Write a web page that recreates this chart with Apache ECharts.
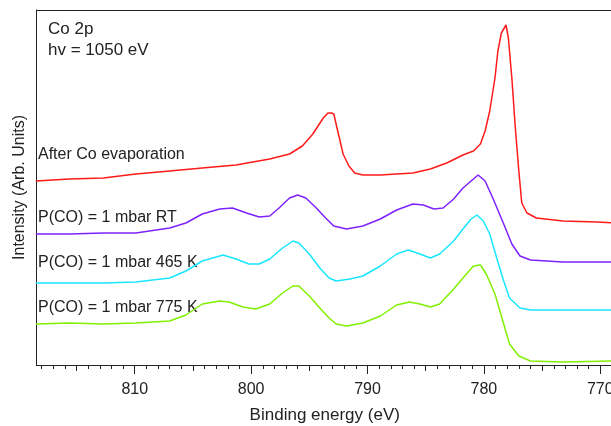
<!DOCTYPE html>
<html>
<head>
<meta charset="utf-8">
<script src="https://cdn.jsdelivr.net/npm/echarts@6/dist/echarts.min.js"></script>
<style>
  html, body { margin: 0; padding: 0; background: #fff; }
  #chart { width: 611px; height: 426px; }
</style>
</head>
<body>
<div id="chart"></div>
<script>
// Co 2p spectra, binding energy (eV) vs intensity (arb. units, offset stacked)
var redEnergy = [818.5, 815.6, 812.7, 809.9, 807.0, 804.2, 801.3, 798.4, 796.7, 795.6, 794.7, 793.8, 793.4, 793.1, 792.9, 792.5, 792.1, 791.6, 791.1, 790.4, 788.9, 787.5, 786.1, 784.6, 783.2, 781.8, 780.9, 780.3, 779.9, 779.5, 779.05, 778.8, 778.5, 778.1, 777.9, 777.6, 777.3, 777.0, 776.75, 776.3, 775.5, 773.2, 770.3, 768.9]
var redCounts = [184, 186, 187, 191, 194, 197, 200, 206, 211, 219, 231, 247, 252, 252, 251, 231, 211, 199, 192, 190, 190, 191, 192, 196, 202, 210, 214, 221, 234, 254, 287, 314, 332, 340, 327, 287, 237, 194, 162, 152, 147, 144, 143, 142]

var rtEnergy = [818.5, 815.6, 812.7, 809.9, 807.0, 805.6, 804.2, 802.7, 801.6, 800.4, 799.3, 798.4, 797.6, 796.7, 796.0, 795.3, 794.4, 793.6, 792.9, 791.8, 790.4, 788.9, 787.5, 786.1, 785.2, 784.3, 783.5, 782.6, 781.8, 780.9, 780.5, 779.9, 779.2, 778.3, 777.6, 776.9, 776.0, 773.2, 768.9]
var rtCounts = [131, 131, 132, 132, 137, 142, 151, 156, 157, 152, 148, 149, 157, 167, 170, 167, 157, 147, 139, 136, 139, 146, 155, 161, 160, 156, 157, 166, 177, 186, 190, 184, 166, 141, 121, 109, 105, 103, 103]

var k465Energy = [818.5, 815.6, 812.7, 809.9, 807.0, 805.6, 804.2, 802.4, 801.3, 800.2, 799.3, 798.4, 797.3, 796.4, 795.9, 795.0, 794.1, 793.3, 792.7, 791.5, 790.4, 788.9, 787.5, 786.5, 785.5, 784.6, 783.8, 782.6, 781.8, 781.1, 780.6, 780.05, 779.5, 778.9, 778.3, 777.8, 776.9, 776.0, 773.2, 768.9]
var k465Counts = [82, 82, 82, 83, 87, 94, 104, 110, 106, 101, 101, 106, 117, 124, 122, 111, 97, 87, 84, 86, 89, 99, 111, 115, 111, 107, 111, 124, 136, 146, 150, 144, 131, 107, 84, 67, 57, 55, 55, 55]

var k775Energy = [818.5, 815.6, 812.7, 809.9, 807.0, 805.6, 804.2, 802.7, 801.9, 800.7, 799.6, 798.4, 797.3, 796.4, 795.9, 795.0, 794.1, 793.3, 792.7, 791.8, 790.4, 788.9, 787.5, 786.4, 785.5, 784.6, 783.8, 782.6, 781.8, 780.9, 780.3, 779.8, 779.05, 778.3, 777.8, 777.0, 776.0, 773.2, 768.9]
var k775Counts = [41, 42, 41, 42, 44, 50, 61, 64, 63, 58, 56, 61, 72, 79, 79, 69, 57, 47, 41, 39, 42, 49, 60, 63, 61, 58, 61, 76, 87, 99, 100, 91, 71, 41, 21, 9, 4, 3, 4]

var seriesNames = ['After Co evaporation', 'P(CO) = 1 mbar RT', 'P(CO) = 1 mbar 465 K', 'P(CO) = 1 mbar 775 K']
var seriesColors = ['#ff1a1a', '#7f22ff', '#18e6ff', '#80f000']
var labelY = [155, 218, 263, 308]

var majorTicks = [810, 800, 790, 780, 770]
var midTicks = [815, 805, 795, 785, 775]
var minorTicks = []
for (var e = 769; e <= 818; e++) minorTicks.push(e)

var xMin = 768.91, xMax = 818.44

function pairs(xs, ys) {
  var out = []
  xs.forEach(function (x, i) { out.push([x, ys[i]]) })
  return out
}

var chart = echarts.init(document.getElementById('chart'))
var frame = '#222'
var font = 'Liberation Sans, Arial, sans-serif'

function tickAxis(values, len, showLine, showLabel) {
  return {
    type: 'value', position: 'bottom', min: xMin, max: xMax, inverse: true,
    axisLine: { show: showLine, onZero: false, lineStyle: { color: frame, width: 1 } },
    axisTick: { show: true, length: len, customValues: values, lineStyle: { color: frame, width: 1 } },
    axisLabel: { show: showLabel, customValues: majorTicks, margin: 17, fontSize: 16, color: '#222', fontFamily: font },
    splitLine: { show: false }
  }
}

var xAxes = [
  tickAxis(majorTicks, 9, true, true),
  tickAxis(midTicks, 6, false, false),
  tickAxis(minorTicks, 4, false, false),
  {
    type: 'value', position: 'top', min: xMin, max: xMax, inverse: true,
    axisLine: { show: true, onZero: false, lineStyle: { color: frame, width: 1 } },
    axisTick: { show: false }, axisLabel: { show: false }, splitLine: { show: false }
  }
]
xAxes[0].name = 'Binding energy (eV)'
xAxes[0].nameLocation = 'middle'
xAxes[0].nameGap = 42
xAxes[0].nameTextStyle = { fontSize: 17, color: '#222', fontFamily: font }

var colls = [[redEnergy, redCounts], [rtEnergy, rtCounts], [k465Energy, k465Counts], [k775Energy, k775Counts]]
var series = colls.map(function (c, i) {
  return {
    name: seriesNames[i], type: 'line', xAxisIndex: 0, data: pairs(c[0], c[1]),
    showSymbol: false, symbol: 'none', smooth: false,
    lineStyle: { color: seriesColors[i], width: 1.5 }, animation: false
  }
})

var graphics = [
  { type: 'text', style: { text: 'Co 2p', x: 48, y: 29, font: '17px ' + font, fill: '#222', verticalAlign: 'middle' } },
  { type: 'text', style: { text: 'hv = 1050 eV', x: 48, y: 50, font: '17px ' + font, fill: '#222', verticalAlign: 'middle' } }
]
seriesNames.forEach(function (n, i) {
  graphics.push({ type: 'text', style: { text: n, x: 38, y: labelY[i], font: '16px ' + font, fill: '#222', verticalAlign: 'middle' } })
})

chart.setOption({
  backgroundColor: '#fff',
  animation: false,
  grid: { left: 36.5, top: 10, width: 576.5, height: 355, containLabel: false, outerBoundsMode: 'none' },
  xAxis: xAxes,
  yAxis: {
    type: 'value', min: 0, max: 355,
    name: 'Intensity (Arb. Units)', nameLocation: 'middle', nameGap: 9,
    nameTextStyle: { fontSize: 16, color: '#222', fontFamily: font },
    axisLine: { show: true, lineStyle: { color: frame, width: 1 } },
    axisTick: { show: false }, axisLabel: { show: false }, splitLine: { show: false }
  },
  series: series,
  graphic: graphics
})
</script>
</body>
</html>
